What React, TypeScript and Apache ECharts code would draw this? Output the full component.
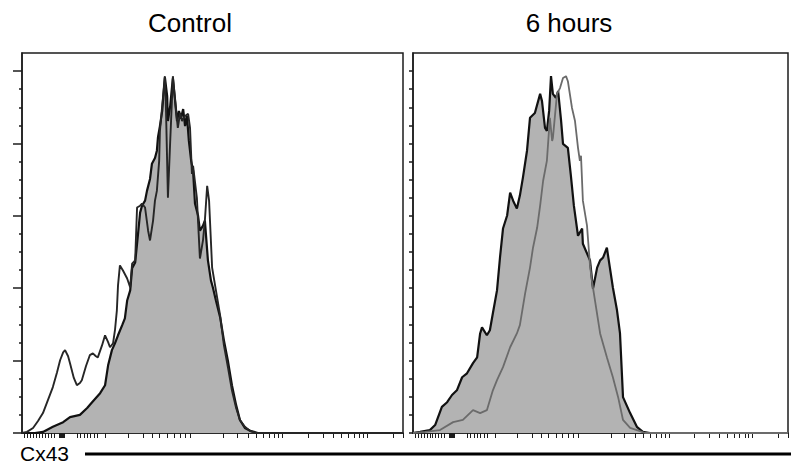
import React, { useEffect, useRef } from "react";
import * as echarts from "echarts";

// Display channel (0..1000) vs. % of max
const controlFilled: number[][] = [[0,0],[34,0],[55,0.3],[81,1.7],[108,3.0],[126,4.4],[152,5.0],[171,6.9],[184,8.5],[205,11.0],[218,13.2],[226,18.7],[236,22.9],[244,24.8],[252,27.0],[263,29.8],[270,31.7],[276,36.6],[284,39.4],[289,45.5],[297,47.1],[302,52.3],[310,60.9],[315,62.8],[323,64.2],[328,66.9],[336,70.2],[341,74.4],[349,76.0],[354,78.0],[357,81.8],[362,84.8],[368,89.0],[373,95.9],[375,98.3],[381,93.1],[383,86.2],[389,90.4],[394,95.9],[396,98.0],[402,91.7],[407,86.2],[412,89.0],[417,86.8],[423,89.5],[428,84.8],[433,87.6],[438,80.7],[444,75.2],[449,72.5],[454,63.4],[462,60.1],[467,55.9],[475,57.3],[480,58.7],[488,47.7],[496,42.1],[501,40.2],[509,36.6],[520,32.0],[530,25.6],[541,19.6],[551,13.2],[562,7.7],[572,3.6],[585,1.4],[599,0.6],[619,0],[1000,0]];

const controlOpen: number[][] = [[0,0],[13,0.3],[29,1.4],[42,3.3],[55,5.5],[68,9.1],[81,12.7],[92,16.8],[100,20.1],[108,22.3],[113,22.9],[121,21.2],[126,19.3],[136,15.2],[144,13.2],[152,13.8],[157,14.6],[168,18.5],[178,21.5],[186,22.0],[194,21.2],[199,20.9],[210,24.2],[218,27.0],[226,25.1],[231,23.7],[239,24.8],[244,28.4],[249,33.9],[252,40.8],[257,46.3],[265,44.9],[276,42.7],[284,40.2],[289,46.8],[297,47.7],[302,62.3],[310,62.8],[315,63.4],[323,62.3],[331,55.9],[336,53.2],[344,58.7],[349,64.2],[354,66.9],[360,75.2],[362,83.5],[368,90.4],[373,95.9],[375,98.6],[378,89.0],[383,65.0],[389,80.7],[394,93.1],[396,98.6],[402,91.7],[409,84.3],[415,88.4],[420,86.2],[428,87.6],[436,88.2],[441,84.3],[446,71.6],[449,73.8],[459,65.0],[467,48.2],[475,53.2],[480,58.7],[486,68.3],[491,64.2],[499,45.7],[509,39.4],[520,32.5],[530,24.2],[541,17.9],[551,11.8],[562,6.9],[572,3.6],[585,1.7],[598,0.6],[614,0],[1000,0]];

const sixHoursFilled: number[][] = [[0,0],[19,0.3],[45,0.8],[59,2.2],[77,7.2],[91,8.5],[104,10.5],[117,11.8],[131,15.4],[144,16.5],[160,19.3],[171,20.9],[179,27.5],[184,29.2],[197,27.0],[205,28.4],[213,33.1],[224,39.4],[232,48.5],[240,56.5],[251,60.1],[259,66.4],[267,64.2],[277,62.0],[285,65.6],[293,70.5],[304,78.0],[312,87.1],[325,88.4],[339,93.7],[344,91.7],[352,84.3],[357,83.5],[363,89.0],[368,98.6],[373,93.7],[381,92.6],[387,94.5],[395,86.2],[400,79.9],[413,78.8],[421,71.1],[429,62.8],[440,54.5],[451,56.5],[453,52.3],[472,47.7],[480,39.9],[491,45.7],[499,47.7],[507,48.5],[517,51.2],[525,45.7],[533,40.2],[544,33.9],[552,27.5],[560,9.9],[579,5.5],[597,1.7],[613,0.3],[632,0],[1000,0]];

const sixHoursControl: number[][] = [[0,0],[32,0.3],[72,0.8],[107,3.0],[133,3.6],[160,6.3],[179,5.5],[197,6.3],[213,11.8],[224,14.6],[240,18.2],[259,23.7],[277,27.5],[285,29.8],[299,38.6],[312,45.7],[320,51.2],[331,56.7],[339,62.8],[347,69.7],[357,75.2],[365,87.1],[371,80.7],[373,81.5],[384,93.7],[392,95.3],[400,98.1],[408,98.6],[413,97.2],[424,89.8],[432,86.2],[440,78.8],[445,75.2],[448,76.6],[453,64.2],[464,57.3],[472,46.3],[477,42.1],[499,27.5],[517,20.9],[533,15.4],[547,9.9],[560,3.6],[579,1.4],[597,0.8],[619,0],[1000,0]];

const xTicks: number[] = [5,13,21,29,37,45,52,60,68,76,84,97,99,100,102,104,105,107,108,110,144,152,163,171,178,189,197,218,278,318,341,360,381,399,415,428,441,528,564,593,614,633,648,661,672,682,751,790,816,837,856,871,885,895,905,974,1000];
const yMajorTicks: number[] = [0,20,40,60,80,100];
const yMinorTicks: number[] = [5,10,15,25,30,35,45,50,55,65,70,75,85,90,95];
const yAllTicks: number[] = [0,5,10,15,20,25,30,35,40,45,50,55,60,65,70,75,80,85,90,95,100];

const panelTitles: string[] = ["Control", "6 hours"];
const axisTitle = "Cx43";

export default function App() {
  const ref = useRef<HTMLDivElement>(null);
  useEffect(() => {
    if (!ref.current) return;
    const chart = echarts.init(ref.current, undefined, { renderer: "svg" });
    const frame = "#1c1c1c";
    const fill = "#b3b3b3";
    const xAxisBase = (gridIndex: number) => ({
      type: "value" as const,
      gridIndex,
      min: 0,
      max: 1000,
      axisLine: { show: true, lineStyle: { color: frame, width: 1.5 } },
      axisTick: { show: true, customValues: xTicks, length: 5, lineStyle: { color: frame, width: 1 } },
      axisLabel: { show: false },
      splitLine: { show: false },
    });
    const yAxisBase = (gridIndex: number, ticks: number[], len: number, line: boolean) => ({
      type: "value" as const,
      gridIndex,
      position: "left" as const,
      min: 0,
      max: 105,
      axisLine: { show: line, lineStyle: { color: frame, width: 1.5 } },
      axisTick: { show: true, customValues: ticks, length: len, lineStyle: { color: frame, width: 1.5 } },
      axisLabel: { show: false },
      splitLine: { show: false },
    });
    chart.setOption({
      animation: false,
      grid: [
        { left: 22, top: 53, width: 381, height: 380, show: true, borderColor: frame, borderWidth: 1.5, backgroundColor: "transparent" },
        { left: 413, top: 53, width: 375, height: 380, show: true, borderColor: frame, borderWidth: 1.5, backgroundColor: "transparent" },
      ],
      xAxis: [xAxisBase(0), xAxisBase(1)],
      yAxis: [
        yAxisBase(0, yMajorTicks, 9, true),
        yAxisBase(0, yMinorTicks, 3, false),
        yAxisBase(1, yAllTicks, 4, true),
      ],
      series: [
        {
          type: "line", xAxisIndex: 0, yAxisIndex: 0, data: controlFilled, symbol: "none",
          lineStyle: { color: "#111", width: 2.2 }, areaStyle: { color: fill, opacity: 1 }, z: 2,
        },
        {
          type: "line", xAxisIndex: 0, yAxisIndex: 0, data: controlOpen, symbol: "none",
          lineStyle: { color: "#262626", width: 1.9 }, z: 3,
        },
        {
          type: "line", xAxisIndex: 1, yAxisIndex: 2, data: sixHoursFilled, symbol: "none",
          lineStyle: { color: "#111", width: 2.2 }, areaStyle: { color: fill, opacity: 1 }, z: 2,
        },
        {
          type: "line", xAxisIndex: 1, yAxisIndex: 2, data: sixHoursControl, symbol: "none",
          lineStyle: { color: "#6b6b6b", width: 1.8 }, z: 3,
        },
      ],
      graphic: [
        { type: "text", x: 190, y: 23, style: { text: panelTitles[0], fill: "#000", font: "26px 'Liberation Sans', Arial, sans-serif", textAlign: "center", textVerticalAlign: "middle" } },
        { type: "text", x: 569, y: 23, style: { text: panelTitles[1], fill: "#000", font: "26px 'Liberation Sans', Arial, sans-serif", textAlign: "center", textVerticalAlign: "middle" } },
        { type: "text", x: 20, y: 453, style: { text: axisTitle, fill: "#000", font: "21px 'Liberation Sans', Arial, sans-serif", textAlign: "left", textVerticalAlign: "middle" } },
        { type: "line", shape: { x1: 85, y1: 454, x2: 791, y2: 454 }, style: { stroke: "#000", lineWidth: 3 } },
      ],
    });
    return () => chart.dispose();
  }, []);
  return <div ref={ref} style={{ position: "fixed", left: 0, top: 0, width: 800, height: 472, background: "#fff" }} />;
}
